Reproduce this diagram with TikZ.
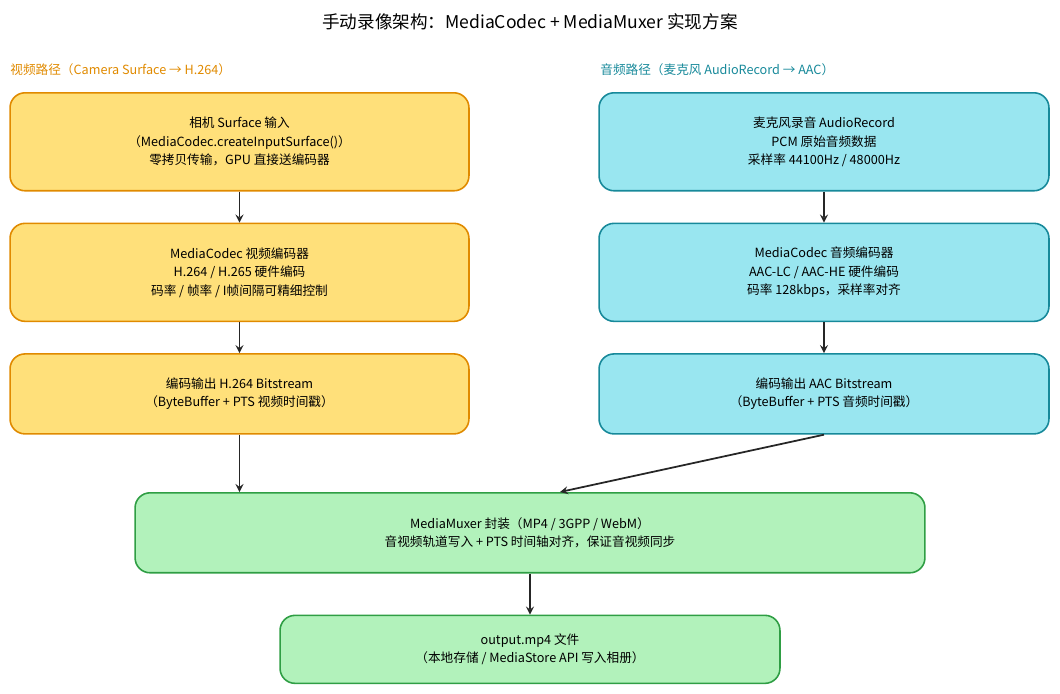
\documentclass[tikz,border=0pt]{standalone}
\usepackage{fontspec}
\setmainfont{Noto Sans CJK SC}
\usetikzlibrary{positioning}
\definecolor{vfill}{HTML}{FFE07A}
\definecolor{vline}{HTML}{E08A00}
\definecolor{afill}{HTML}{99E6F0}
\definecolor{aline}{HTML}{17899A}
\definecolor{mfill}{HTML}{B2F2BB}
\definecolor{mline}{HTML}{2F9E44}
\tikzset{
  box/.style={draw, rounded corners=0.3cm, line width=0.9pt, align=center,
              font=\fontsize{7.2}{10.5}\selectfont, inner sep=2pt},
  vbox/.style={box, fill=vfill, draw=vline, minimum width=9.18cm},
  abox/.style={box, fill=afill, draw=aline, minimum width=9.0cm},
  mbox/.style={box, fill=mfill, draw=mline},
  flow/.style={->, >=stealth, line width=1pt, draw=black!85}
}
\begin{document}
\begin{tikzpicture}[x=0.02cm, y=-0.02cm, node distance=0.62cm]
\useasboundingbox (0,0) rectangle (1060,693);
\node[font=\fontsize{10}{12}\selectfont] (title) at (530,22) {手动录像架构：MediaCodec + MediaMuxer 实现方案};
\node[anchor=west, text=vline, font=\fontsize{7.2}{9}\selectfont, inner sep=0] (vlab) at (10,70) {视频路径（Camera Surface → H.264）};
\node[anchor=west, text=aline, font=\fontsize{7.2}{9}\selectfont, inner sep=0] (alab) at (600,70) {音频路径（麦克风 AudioRecord → AAC）};

% video
\node[vbox, minimum height=1.96cm, anchor=north] (cam) at (239.5,92)
  {相机 Surface 输入\\（MediaCodec.createInputSurface()）\\零拷贝传输，GPU 直接送编码器};
\node[vbox, minimum height=1.96cm, below=of cam] (venc)
  {MediaCodec 视频编码器\\H.264 / H.265 硬件编码\\码率 / 帧率 / I帧间隔可精细控制};
\node[vbox, minimum height=1.6cm, below=of venc] (vout)
  {编码输出 H.264 Bitstream\\（ByteBuffer + PTS 视频时间戳）};

% audio
\node[abox, minimum height=1.96cm, anchor=north] (mic) at (824,92)
  {麦克风录音 AudioRecord\\PCM 原始音频数据\\采样率 44100Hz / 48000Hz};
\node[abox, minimum height=1.96cm, below=of mic] (aenc)
  {MediaCodec 音频编码器\\AAC-LC / AAC-HE 硬件编码\\码率 128kbps，采样率对齐};
\node[abox, minimum height=1.6cm, below=of aenc] (aout)
  {编码输出 AAC Bitstream\\（ByteBuffer + PTS 音频时间戳）};

% muxer
\node[mbox, minimum width=15.8cm, minimum height=1.6cm, anchor=north] (mux) at (530,492)
  {MediaMuxer 封装（MP4 / 3GPP / WebM）\\音视频轨道写入 + PTS 时间轴对齐，保证音视频同步};
\node[mbox, minimum width=10cm, minimum height=1.36cm, below=0.82cm of mux] (file)
  {output.mp4 文件\\（本地存储 / MediaStore API 写入相册）};

\draw[flow] (cam) -- (venc);
\draw[flow] (venc) -- (vout);
\draw[flow] (mic) -- (aenc);
\draw[flow] (aenc) -- (aout);
\draw[flow] (vout.south) -- (vout.south |- mux.north);
\draw[flow] (aout.south) -- (560,492);
\draw[flow] (mux) -- (file);
\end{tikzpicture}
\end{document}
